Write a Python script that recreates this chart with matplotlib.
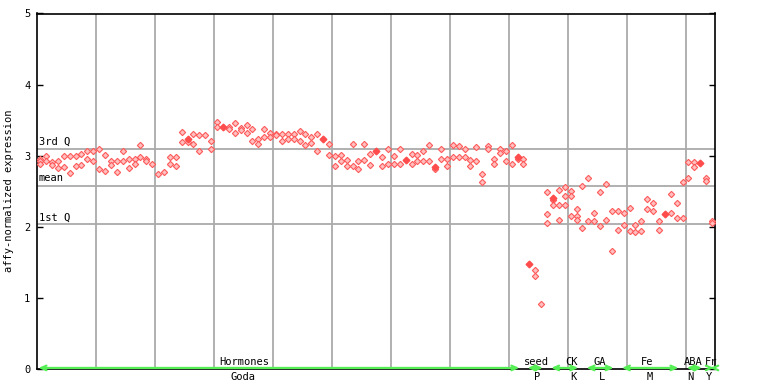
"""Expression scatter across experiment groups (affy-normalized)."""

import matplotlib

matplotlib.use("Agg")
import matplotlib.pyplot as plt

plt.rcParams.update(
    {
        "font.family": "DejaVu Sans Mono",
        "font.size": 7.5,
    }
)

# expression values per sample, in sample order (open diamonds)
values = [
    [2.96, 2.93, 2.89], [3.00, 2.93], [2.91, 2.87], [2.93, 2.82], [2.99, 2.84],
    [2.99, 2.75], [2.99, 2.86], [3.02, 2.87], [3.07, 2.95], [3.07, 2.92],
    [3.09, 2.81], [3.01, 2.78], [2.92, 2.87], [2.92, 2.77], [3.06, 2.92],
    [2.95, 2.82], [2.95, 2.89], [3.15, 2.98], [2.95, 2.92], [2.88],
    [2.74], [2.77], [2.98, 2.88], [2.98, 2.86], [3.34, 3.19],
    [3.19], [3.31, 3.17], [3.29, 3.06], [3.29], [3.20, 3.10],
    [3.48, 3.41], [], [3.41, 3.37], [3.46, 3.32], [3.39, 3.36],
    [3.43, 3.32], [3.37, 3.21], [3.24, 3.16], [3.37, 3.26], [3.32, 3.26],
    [3.30, 3.29], [3.31, 3.21], [3.31, 3.24], [3.31, 3.24], [3.35, 3.21],
    [3.30, 3.15], [3.26, 3.18], [3.31, 3.06], [], [3.17, 3.01],
    [3.00, 2.86], [3.01, 2.93], [2.94, 2.86], [3.17, 2.85], [2.93, 2.81],
    [3.17, 2.94], [3.02, 2.87], [], [2.98, 2.86], [3.10, 2.89],
    [3.00, 2.88], [3.09, 2.88], [], [3.03, 2.89], [3.01, 2.92],
    [3.06, 2.92], [3.15, 2.92], [2.81], [3.10, 2.96], [2.96, 2.86],
    [3.15, 2.98], [3.14, 2.98], [3.10, 2.98], [2.94, 2.86], [3.12, 2.92],
    [2.74, 2.63], [3.14, 3.10], [2.95, 2.88], [3.10, 3.04], [3.07, 2.92],
    [3.15, 2.89], [2.95], [2.95, 2.89], [], [1.39, 1.31],
    [0.91], [2.49, 2.18, 2.05], [2.38, 2.30], [2.52, 2.30, 2.09], [2.56, 2.43, 2.30],
    [2.50, 2.44, 2.15], [2.25, 2.15, 2.09], [2.57, 1.98], [2.68, 2.08], [2.20, 2.08],
    [2.49, 2.01], [2.60, 2.09], [2.22, 1.66], [2.22, 1.95], [2.20, 2.02],
    [2.26, 1.94], [2.02, 1.92], [2.08, 1.94], [2.39, 2.25], [2.33, 2.22],
    [2.08, 1.95], [], [2.46, 2.19], [2.34, 2.12], [2.63, 2.12],
    [2.91, 2.68], [2.91, 2.84], [], [2.68, 2.65], [2.08, 2.05],
]

# overlapping replicates drawn as solid diamonds
solid_samples = [25, 31, 48, 57, 62, 67, 81, 83, 87, 106, 112]
solid_values = [3.23, 3.41, 3.24, 3.07, 2.94, 2.84, 2.98, 1.48, 2.41, 2.18, 2.90]

# summary statistics of the probe set
q3_value = 3.10
mean_value = 2.58
q1_value = 2.035

# experiment groups: upper label, lower label, first and last sample
group_top = ["Hormones", "seed", "CK", "GA", "Fe", "ABA", "Fr"]
group_bottom = ["Goda", "P", "K", "L", "M", "N", "Y"]
group_first = [0, 83, 87, 93, 99, 110, 114]
group_last = [81, 85, 91, 97, 108, 112, 114]
top_label_x = [35.2, 84.7, 90.6, 95.5, 103.5, 111.3, 114.4]
bottom_label_x = [34.9, 84.9, 91.0, 95.9, 104.0, 110.9, 113.9]

n_samples = len(values)

fig = plt.figure(figsize=(7.68, 3.84), dpi=100)
ax = fig.add_axes([37.3 / 768, 15 / 384, (715 - 37.3) / 768, (369 - 13.5) / 384])

xs, ys = [], []
for i, vals in enumerate(values):
    for v in vals:
        xs.append(i + 0.5)
        ys.append(v)

ax.plot(
    xs, ys, linestyle="none", marker="D", markersize=3.2,
    markerfacecolor="#ffc0c0", markeredgecolor="#ff5a5a", markeredgewidth=0.8,
    zorder=3,
)
ax.plot(
    [s + 0.5 for s in solid_samples], solid_values, linestyle="none", marker="D",
    markersize=3.4, color="#ff4c4c", zorder=4,
)

grid_color = "#aaaaaa"
for gx in range(10, n_samples, 10):
    ax.axvline(gx, color=grid_color, lw=1.3, zorder=1)
for y, name in [(q3_value, "3rd Q"), (mean_value, "mean"), (q1_value, "1st Q")]:
    ax.axhline(y, color=grid_color, lw=1.3, zorder=1)
    ax.annotate(name, xy=(0, y), xytext=(1, 1.5), textcoords="offset points",
                ha="left", va="bottom", fontsize=7.5)

# green group arrows along the baseline, labels above and below
for first, last in zip(group_first, group_last):
    ax.annotate(
        "", xy=(last + 0.8, 0.015), xytext=(first + 0.2, 0.015),
        arrowprops=dict(arrowstyle="<->,head_length=0.5,head_width=0.22",
                        color="#55ee55", lw=1.6, shrinkA=0, shrinkB=0),
        annotation_clip=False, zorder=5,
    )
for name, x in zip(group_top, top_label_x):
    ax.annotate(name, xy=(x, 0), xytext=(0, 1.5), textcoords="offset points",
                ha="center", va="bottom", fontsize=7.5)
for name, x in zip(group_bottom, bottom_label_x):
    ax.annotate(name, xy=(x, 0), xytext=(0, -2), textcoords="offset points",
                ha="center", va="top", fontsize=7.5, annotation_clip=False)

ax.set_xlim(0, 115)
ax.set_ylim(0, 5)
ax.set_xticks([])
ax.set_yticks(range(0, 6))
ax.tick_params(axis="y", direction="in", length=4, width=1, right=True, pad=5)
for spine in ax.spines.values():
    spine.set_linewidth(1.2)
ax.set_ylabel("affy-normalized expression", labelpad=7)

fig.savefig("out.png", dpi=100)
